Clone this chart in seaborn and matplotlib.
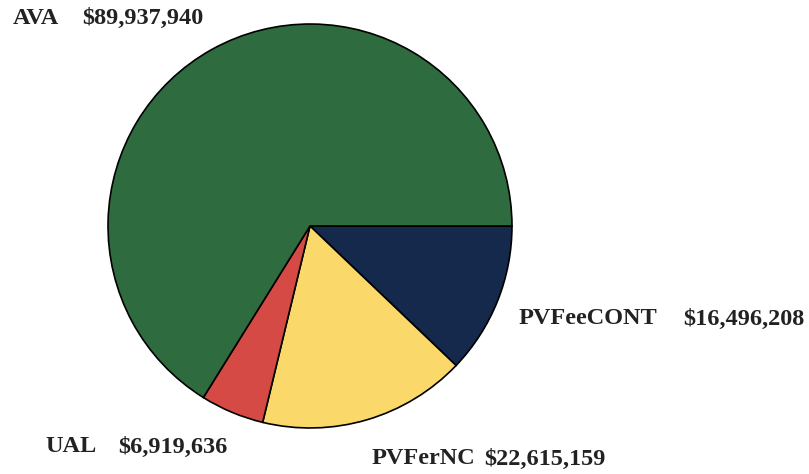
import matplotlib
matplotlib.use("Agg")
import matplotlib.pyplot as plt
import seaborn as sns

sns.set_theme(style="white")
plt.rcParams['font.family'] = ['Liberation Serif', 'DejaVu Serif']

# slices, clockwise from 3 o'clock
names = ['PVFeeCONT', 'PVFerNC', 'UAL', 'AVA']
values = [16496208, 22615159, 6919636, 89937940]
colors = ['#15294d', '#fbd86a', '#d64a45', '#2e6b3e']

W, H = 809, 474
fig = plt.figure(figsize=(W / 100, H / 100), dpi=100)

# pie centre ~ (310, 226) px, radius ~204 px
cx, cy, r = 310, 226, 204
ax = fig.add_axes([(cx - r) / W, (H - cy - r) / H, 2 * r / W, 2 * r / H])
ax.pie(values, colors=colors, startangle=0, counterclock=False,
       wedgeprops=dict(edgecolor='black', linewidth=1.2))
ax.set_xlim(-1.01, 1.01)
ax.set_ylim(-1.01, 1.01)
ax.set_aspect('equal')
ax.axis('off')

# label text: name and dollar amount placed separately (pixel positions)
label_pos = {
    'AVA': ((13, 18), (82, 18)),
    'UAL': ((45, 447), (118, 447)),
    'PVFerNC': ((372, 459), (484, 459)),
    'PVFeeCONT': ((519, 319), (683, 319)),
}
for name, val in zip(names, values):
    (nx, ny), (vx, vy) = label_pos[name]
    kw = dict(fontsize=17.5, fontweight='bold', color='#222222', va='center', ha='left')
    fig.text(nx / W, 1 - ny / H, name, **kw)
    fig.text(vx / W, 1 - vy / H, '${:,}'.format(val), **kw)

fig.savefig('out.png', dpi=100, facecolor='white')
